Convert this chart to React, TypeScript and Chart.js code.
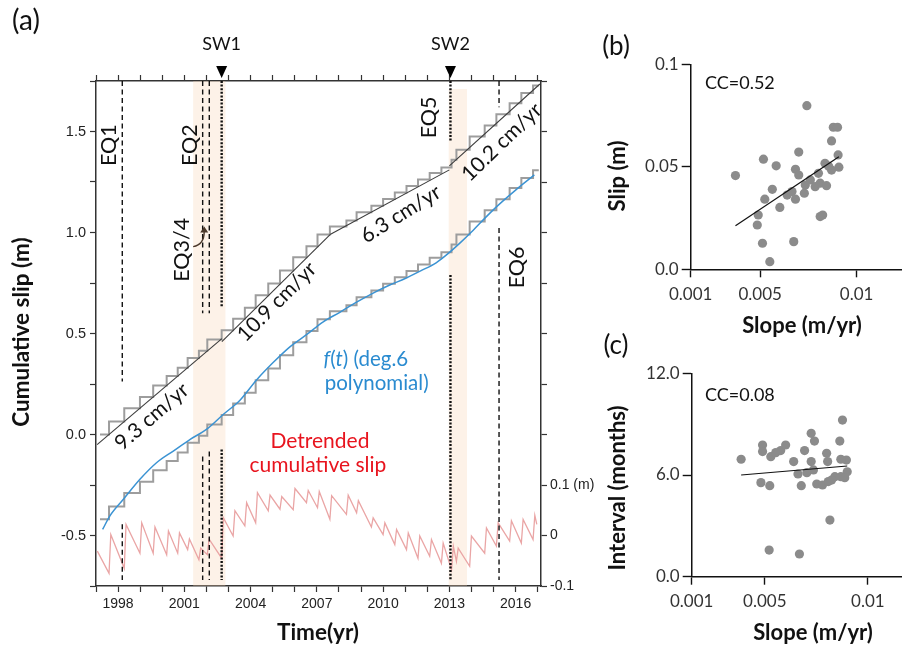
import React, { useEffect, useRef } from "react";
import { Chart, registerables } from "chart.js";
Chart.register(...registerables);

const CAL = "Lato, 'Open Sans', sans-serif";
const ARIAL = "'Liberation Sans', Arial, sans-serif";

// ---------------- Panel (a) data ----------------
const yearTicks = [1997, 1998, 1999, 2000, 2001, 2002, 2003, 2004, 2005, 2006, 2007, 2008, 2009, 2010, 2011, 2012, 2013, 2014, 2015, 2016, 2017];
const yearLabels = [1998, 2001, 2004, 2007, 2010, 2013, 2016];
const slipTicks = [-0.75, -0.5, -0.25, 0, 0.25, 0.5, 0.75, 1.0, 1.25, 1.5, 1.75];
const slipLabels = [-0.5, 0, 0.5, 1.0, 1.5];
const detTicks = [-0.1, 0, 0.1, 0.2, 0.3, 0.4, 0.5, 0.6, 0.7, 0.8, 0.9];
const detLabelValues = [-0.1, 0, 0.1];
const detLabelTexts = ["-0.1", "0", "0.1 (m)"];

const eventTimes = [1997.59, 1998.28, 1998.99, 1999.59, 2000.2, 2000.7, 2001.15, 2001.66, 2002.04, 2002.69, 2003.21, 2003.74, 2004.23, 2004.8, 2005.33, 2005.93, 2006.53, 2007.03, 2007.59, 2008.34, 2008.8, 2009.47, 2010.0, 2010.53, 2011.06, 2011.58, 2012.11, 2012.64, 2013.1, 2013.32, 2013.92, 2014.6, 2015.13, 2015.73, 2016.26, 2016.79];
const stairStartTime = 1997.18;
const stairStartValue = 0.0;
const stairEndTime = 2017.05;
const cumSlip = [0.064, 0.13, 0.186, 0.243, 0.289, 0.331, 0.379, 0.414, 0.47, 0.516, 0.573, 0.627, 0.689, 0.747, 0.812, 0.877, 0.932, 0.99, 1.03, 1.06, 1.1, 1.133, 1.166, 1.198, 1.23, 1.262, 1.295, 1.322, 1.36, 1.41, 1.475, 1.53, 1.585, 1.64, 1.69, 1.728];
const lowerOffset = 0.42;

const polyTimes = [1997.3, 1997.63, 1998.24, 1998.99, 1999.74, 2000.5, 2001.25, 2002.0, 2002.76, 2003.52, 2004.27, 2005.02, 2005.78, 2006.53, 2007.29, 2008.04, 2008.8, 2009.55, 2010.3, 2011.0, 2011.7, 2012.4, 2012.87, 2013.5, 2014.07, 2014.6, 2015.13, 2016.0, 2016.85];
const polyValues = [-0.47, -0.403, -0.321, -0.222, -0.14, -0.082, -0.025, 0.025, 0.099, 0.17, 0.27, 0.356, 0.434, 0.494, 0.558, 0.605, 0.655, 0.7, 0.74, 0.772, 0.81, 0.85, 0.889, 0.95, 1.01, 1.07, 1.127, 1.21, 1.285];

const detStartTime = 1997.06;
const detStartValue = -0.031;
const detBefore = [-0.075, -0.065, -0.035, -0.035, -0.038, -0.035, -0.028, -0.048, -0.038, -0.045, -0.001, 0.019, 0.025, 0.049, 0.052, 0.051, 0.065, 0.055, 0.032, 0.042, 0.045, 0.017, 0.002, -0.018, -0.028, -0.045, -0.041, -0.055, -0.068, -0.051, -0.061, -0.035, -0.021, -0.011, -0.015, -0.008];
const detAfter = [0.002, 0.022, 0.025, 0.017, 0.009, 0.005, -0.007, -0.025, -0.007, 0.035, 0.049, 0.065, 0.085, 0.08, 0.077, 0.093, 0.089, 0.087, 0.079, 0.08, 0.069, 0.035, 0.025, 0.012, 0.005, -0.001, -0.008, -0.015, -0.021, -0.025, -0.001, 0.015, 0.025, 0.029, 0.032, 0.04];
const detRise = 0.08;
const detEndTime = 2016.96;
const detEndValue = 0.022;

const trendStartT = [1997.05, 2002.7, 2007.6, 2013.0];
const trendStartV = [-0.05, 0.46, 0.99, 1.33];
const trendEndT = [2002.7, 2007.6, 2013.0, 2017.1];
const trendEndV = [0.475, 0.99, 1.31, 1.735];
const rateTexts = ["9.3 cm/yr", "10.9 cm/yr", "6.3 cm/yr", "10.2 cm/yr"];
const rateX = [1999.53, 2005.19, 2010.8, 2015.37];
const rateY = [0.089, 0.657, 1.091, 1.447];
const rateRot = [-41, -45, -32, -44];

const eqLineTimes = [1998.19, 2001.83, 2002.13, 2015.25];
const eqUpperEnd = [0.262, 0.6, 0.6, 1.62];
const eqLowerStart = [-0.444, -0.109, -0.084, 1.022];
const swTimes = [2002.69, 2013.05];
const swUpperEnd = [0.63, 1.447];
const swLowerStart = [-0.074, 0.79];
const swLabels = ["SW1", "SW2"];
const lineTop = 1.75;
const lineBottom = -0.72;

const bandStart = [2001.4, 2012.97];
const bandEnd = [2002.86, 2013.8];
const bandTop = [1.75, 1.71];

const eqTexts = ["EQ1", "EQ2", "EQ3/4", "EQ5", "EQ6"];
const eqTextX = [1997.58, 2001.25, 2000.91, 2012.09, 2016.05];
const eqTextY = [1.432, 1.432, 0.914, 1.57, 0.827];

// ---------------- Panel (b) data ----------------
const slopeB = [0.00372, 0.00517, 0.00583, 0.00563, 0.00524, 0.0049, 0.00485, 0.00512, 0.0055, 0.00602, 0.00674, 0.0064, 0.00665, 0.00683, 0.007, 0.00683, 0.007, 0.00729, 0.00742, 0.00734, 0.0076, 0.00785, 0.00802, 0.00811, 0.00844, 0.00836, 0.00811, 0.00824, 0.0087, 0.00879, 0.00901, 0.00904, 0.00908, 0.0087, 0.00855];
const slipB = [0.0457, 0.0537, 0.0505, 0.039, 0.0342, 0.0265, 0.0216, 0.0127, 0.0037, 0.0302, 0.0135, 0.0362, 0.0379, 0.0342, 0.0572, 0.0488, 0.046, 0.0371, 0.0798, 0.0411, 0.0436, 0.0403, 0.0468, 0.042, 0.0408, 0.0517, 0.0257, 0.0265, 0.0626, 0.0693, 0.0693, 0.0558, 0.0498, 0.0484, 0.0503];
const fitBX = [0.00372, 0.00908];
const fitBY = [0.0213, 0.0549];
const bXTicks = [0.0014, 0.005, 0.01];
const bXLabels = ["0.001", "0.005", "0.01"];
const bYTicks = [0, 0.05, 0.1];
const bYLabels = ["0.0", "0.05", "0.1"];

// ---------------- Panel (c) data ----------------
const slopeC = [0.00385, 0.00489, 0.00489, 0.00529, 0.00553, 0.00577, 0.00601, 0.00481, 0.00524, 0.00521, 0.00668, 0.0064, 0.00661, 0.00677, 0.00693, 0.00704, 0.00725, 0.00725, 0.00741, 0.00736, 0.00752, 0.0078, 0.008, 0.00805, 0.00808, 0.00816, 0.0084, 0.00864, 0.00877, 0.00869, 0.00896, 0.00869, 0.009, 0.00888, 0.00824];
const intervalC = [6.93, 7.77, 7.38, 7.08, 7.32, 7.44, 7.77, 5.55, 5.37, 1.57, 1.34, 6.79, 6.06, 5.37, 7.44, 6.14, 6.79, 8.46, 8.0, 6.3, 5.47, 5.41, 7.28, 6.79, 5.61, 3.34, 5.9, 8.0, 9.24, 5.9, 6.88, 6.93, 6.19, 5.84, 5.7];
const fitCX = [0.00385, 0.009];
const fitCY = [6.0, 6.53];
const cXTicks = [0.00145, 0.005, 0.01];
const cXLabels = ["0.001", "0.005", "0.01"];
const cYTicks = [0, 6, 12];
const cYLabels = ["0.0", "6.0", "12.0"];

// ---------------- helpers ----------------
type Seg = { t: string; italic?: boolean };
function drawRich(ctx: CanvasRenderingContext2D, segs: Seg[], cx: number, cy: number, size: number, weight: string, family: string, color: string, rot = 0) {
  ctx.save();
  ctx.translate(cx, cy);
  ctx.rotate((rot * Math.PI) / 180);
  const fonts = segs.map((s) => `${s.italic ? "italic " : ""}${weight} ${size}px ${family}`);
  let w = 0;
  const ws = segs.map((s, i) => {
    ctx.font = fonts[i];
    const m = ctx.measureText(s.t).width;
    w += m;
    return m;
  });
  let x = -w / 2;
  ctx.fillStyle = color;
  ctx.textBaseline = "middle";
  ctx.textAlign = "left";
  segs.forEach((s, i) => {
    ctx.font = fonts[i];
    ctx.fillText(s.t, x, 0);
    x += ws[i];
  });
  ctx.restore();
}
function txt(ctx: CanvasRenderingContext2D, t: string, cx: number, cy: number, size: number, weight = "400", color = "#111", rot = 0, family = CAL) {
  drawRich(ctx, [{ t }], cx, cy, size, weight, family, color, rot);
}
const near = (arr: number[], v: number) => arr.findIndex((a) => Math.abs(a - v) < 1e-7);

function tickGrid(len: number) {
  return { drawOnChartArea: false, drawTicks: true, tickLength: len, tickColor: "#333", tickWidth: 1.2 };
}
const border = { display: true, color: "#333", width: 1.5 };

// ---------------- Chart (a) ----------------
function makeA(canvas: HTMLCanvasElement) {
  const datasets: any[] = [];
  const vline = (x: number, y1: number, y2: number, dash: number[], w: number) => ({
    data: [{ x, y: y1 }, { x, y: y2 }],
    borderColor: "#111",
    borderWidth: w,
    borderDash: dash,
    pointRadius: 0,
    order: 1,
  });
  eqLineTimes.forEach((t, i) => {
    datasets.push(vline(t, lineTop, eqUpperEnd[i], [5, 3.5], 1.4));
    datasets.push(vline(t, eqLowerStart[i], lineBottom, [5, 3.5], 1.4));
  });
  swTimes.forEach((t, i) => {
    datasets.push(vline(t, lineTop, swUpperEnd[i], [2, 1.6], 2.4));
    datasets.push(vline(t, swLowerStart[i], lineBottom, [2, 1.6], 2.4));
  });
  const upper = [{ x: stairStartTime, y: stairStartValue }, ...eventTimes.map((t, i) => ({ x: t, y: cumSlip[i] })), { x: stairEndTime, y: cumSlip[cumSlip.length - 1] }];
  const lower = upper.map((p) => ({ x: p.x, y: p.y - lowerOffset }));
  datasets.push({ data: upper, stepped: true, borderColor: "#9d9d9d", borderWidth: 2, pointRadius: 0, order: 5 });
  datasets.push({ data: lower, stepped: true, borderColor: "#9d9d9d", borderWidth: 2, pointRadius: 0, order: 5 });
  trendStartT.forEach((t, i) => {
    datasets.push({ data: [{ x: t, y: trendStartV[i] }, { x: trendEndT[i], y: trendEndV[i] }], borderColor: "#3c3c3c", borderWidth: 1.1, pointRadius: 0, order: 4 });
  });
  datasets.push({ data: polyTimes.map((t, i) => ({ x: t, y: polyValues[i] })), borderColor: "#3b93d3", borderWidth: 1.5, pointRadius: 0, cubicInterpolationMode: "monotone", order: 3 });
  const det: any[] = [{ x: detStartTime, y: detStartValue }];
  eventTimes.forEach((t, i) => {
    det.push({ x: t, y: detBefore[i] });
    det.push({ x: t + detRise, y: detAfter[i] });
  });
  det.push({ x: detEndTime, y: detEndValue });
  datasets.push({ data: det, yAxisID: "y2", borderColor: "#eaa5a5", borderWidth: 1.3, pointRadius: 0, order: 3 });

  const plugin = {
    id: "annA",
    beforeDatasetsDraw(chart: any) {
      const { ctx, chartArea: ca, scales } = chart;
      const x = scales.x, y = scales.y;
      ctx.save();
      ctx.fillStyle = "rgba(250, 212, 178, 0.3)";
      bandStart.forEach((b, i) => {
        const x1 = x.getPixelForValue(b), x2 = x.getPixelForValue(bandEnd[i]);
        const yt = y.getPixelForValue(bandTop[i]);
        ctx.fillRect(x1, yt, x2 - x1, ca.bottom - yt);
      });
      ctx.restore();
    },
    afterDatasetsDraw(chart: any) {
      const { ctx, scales } = chart;
      const x = scales.x, y = scales.y;
      eqTexts.forEach((t, i) => txt(ctx, t, x.getPixelForValue(eqTextX[i]), y.getPixelForValue(eqTextY[i]), 21.5, "400", "#111", -90));
      rateTexts.forEach((t, i) => txt(ctx, t, x.getPixelForValue(rateX[i]), y.getPixelForValue(rateY[i]), 21, "400", "#111", rateRot[i]));
      const blue = "#2a8bd0";
      drawRich(ctx, [{ t: "f", italic: true }, { t: "(" }, { t: "t", italic: true }, { t: ") (deg.6" }], x.getPixelForValue(2009.22), y.getPixelForValue(0.37), 20.5, "400", CAL, blue);
      txt(ctx, "polynomial)", x.getPixelForValue(2009.71), y.getPixelForValue(0.252), 20.5, "400", blue);
      txt(ctx, "Detrended", x.getPixelForValue(2007.14), y.getPixelForValue(-0.035), 21, "400", "#e8141e");
      txt(ctx, "cumulative slip", x.getPixelForValue(2007.05), y.getPixelForValue(-0.153), 21, "400", "#e8141e");
      // EQ3/4 arrow
      const ax = x.getPixelForValue(2001.4), ay = y.getPixelForValue(0.93);
      const bx = x.getPixelForValue(2001.9), by = y.getPixelForValue(1.02);
      const cx = x.getPixelForValue(2001.9), cy = y.getPixelForValue(0.94);
      ctx.save();
      ctx.strokeStyle = "#4a382b";
      ctx.fillStyle = "#4a382b";
      ctx.lineWidth = 1.4;
      ctx.beginPath();
      ctx.moveTo(ax, ay);
      ctx.quadraticCurveTo(cx, cy, bx, by + 3);
      ctx.stroke();
      ctx.beginPath();
      ctx.moveTo(bx, by - 2);
      ctx.lineTo(bx - 4, by + 4);
      ctx.lineTo(bx + 4, by + 4);
      ctx.closePath();
      ctx.fill();
      ctx.restore();
    },
    afterDraw(chart: any) {
      const { ctx, chartArea: ca, scales } = chart;
      const x = scales.x;
      swTimes.forEach((t, i) => {
        const px = x.getPixelForValue(t);
        ctx.save();
        ctx.fillStyle = "#000";
        ctx.beginPath();
        ctx.moveTo(px, ca.top - 3);
        ctx.lineTo(px - 5.5, ca.top - 15);
        ctx.lineTo(px + 5.5, ca.top - 15);
        ctx.closePath();
        ctx.fill();
        ctx.restore();
        txt(ctx, swLabels[i], px, ca.top - 37, 18);
      });
      txt(ctx, "(a)", 26, 21, 28);
      txt(ctx, "Cumulative slip (m)", 22, 332, 22.5, "700", "#111", -90);
      txt(ctx, "Time(yr)", 318, 633, 22.5, "700");
    },
  };

  return new Chart(canvas, {
    type: "line",
    data: { datasets },
    plugins: [plugin],
    options: {
      animation: false,
      responsive: false,
      events: [],
      plugins: { legend: { display: false }, tooltip: { enabled: false } },
      layout: { padding: 0 },
      scales: {
        x: {
          type: "linear", position: "bottom", min: 1997, max: 2017.15,
          afterBuildTicks: (s: any) => { s.ticks = yearTicks.map((v) => ({ value: v })); },
          afterFit: (s: any) => { s.height = 63; },
          ticks: { autoSkip: false, maxRotation: 0, padding: 4, color: "#222", font: { family: ARIAL, size: 14 }, callback: (v: any) => (yearLabels.includes(v) ? String(v) : "") },
          grid: tickGrid(6), border,
        },
        xTop: {
          type: "linear", position: "top", min: 1997, max: 2017.15,
          afterBuildTicks: (s: any) => { s.ticks = yearTicks.map((v) => ({ value: v })); },
          afterFit: (s: any) => { s.height = 81; },
          ticks: { autoSkip: false, maxRotation: 0, callback: () => "" },
          grid: tickGrid(6), border,
        },
        y: {
          type: "linear", position: "left", min: -0.75, max: 1.75,
          afterBuildTicks: (s: any) => { s.ticks = slipTicks.map((v) => ({ value: v })); },
          afterFit: (s: any) => { s.width = 96; },
          ticks: { autoSkip: false, padding: 4, color: "#222", font: { family: ARIAL, size: 14.5 }, callback: (v: any) => (near(slipLabels, v) >= 0 ? Number(v).toFixed(1) : "") },
          grid: tickGrid(6), border,
        },
        y2: {
          type: "linear", position: "right", min: -0.1, max: 0.9,
          afterBuildTicks: (s: any) => { s.ticks = detTicks.map((v) => ({ value: v })); },
          afterFit: (s: any) => { s.width = 59; },
          ticks: { autoSkip: false, padding: 3, color: "#222", font: { family: ARIAL, size: 14 }, callback: (v: any) => { const i = near(detLabelValues, v); return i >= 0 ? detLabelTexts[i] : ""; } },
          grid: tickGrid(6), border,
        },
      },
    } as any,
  });
}

// ---------------- Scatter panels ----------------
function makeScatter(canvas: HTMLCanvasElement, cfg: any) {
  const plugin = {
    id: "ann" + cfg.tag,
    afterDraw(chart: any) {
      const { ctx } = chart;
      txt(ctx, cfg.tag, 16, cfg.tagY, 26);
      txt(ctx, cfg.yTitle, 18, cfg.yTitleY, 22, "700", "#111", -90);
      txt(ctx, "Slope (m/yr)", cfg.xTitleX, cfg.xTitleY, 22, "700");
      ctx.save();
      ctx.font = `400 18px ${CAL}`;
      ctx.fillStyle = "#111";
      ctx.textBaseline = "middle";
      ctx.textAlign = "left";
      ctx.fillText(cfg.cc, 105, cfg.ccY);
      ctx.restore();
    },
  };
  return new Chart(canvas, {
    type: "scatter",
    data: {
      datasets: [
        { data: cfg.xs.map((x: number, i: number) => ({ x, y: cfg.ys[i] })), backgroundColor: "#8b8b8b", borderWidth: 0, pointRadius: 4.6, order: 2 },
        { data: [{ x: cfg.fitX[0], y: cfg.fitY[0] }, { x: cfg.fitX[1], y: cfg.fitY[1] }], showLine: true, borderColor: "#111", borderWidth: 1.2, pointRadius: 0, order: 1 },
      ],
    },
    plugins: [plugin],
    options: {
      animation: false,
      responsive: false,
      events: [],
      plugins: { legend: { display: false }, tooltip: { enabled: false } },
      layout: { padding: { top: cfg.top, right: 2, left: 0, bottom: 0 } },
      scales: {
        x: {
          type: "linear", min: cfg.xMin, max: cfg.xMax,
          afterBuildTicks: (s: any) => { s.ticks = cfg.xTicks.map((v: number) => ({ value: v })); },
          afterFit: (s: any) => { s.height = cfg.xH; },
          ticks: { autoSkip: false, maxRotation: 0, padding: 7, color: "#333", font: { family: CAL, size: 17 }, callback: (v: any) => { const i = near(cfg.xTicks, v); return i >= 0 ? cfg.xLabels[i] : ""; } },
          grid: { drawOnChartArea: false, drawTicks: true, tickLength: 8, tickColor: "#111", tickWidth: 1.4 },
          border: { display: true, color: "#111", width: 1.5 },
        },
        y: {
          type: "linear", min: cfg.yMin, max: cfg.yMax,
          afterBuildTicks: (s: any) => { s.ticks = cfg.yTicks.map((v: number) => ({ value: v })); },
          afterFit: (s: any) => { s.width = cfg.yW; },
          ticks: { autoSkip: false, padding: 3, color: "#333", font: { family: CAL, size: 17 }, callback: (v: any) => { const i = near(cfg.yTicks, v); return i >= 0 ? cfg.yLabels[i] : ""; } },
          grid: { drawOnChartArea: false, drawTicks: true, tickLength: 9, tickColor: "#111", tickWidth: 1.4 },
          border: { display: true, color: "#111", width: 1.5 },
        },
      },
    } as any,
  });
}

export default function App() {
  const aRef = useRef<HTMLCanvasElement>(null);
  const bRef = useRef<HTMLCanvasElement>(null);
  const cRef = useRef<HTMLCanvasElement>(null);
  useEffect(() => {
    const charts = [
      makeA(aRef.current!),
      makeScatter(bRef.current!, {
        tag: "(b)", tagY: 17, yTitle: "Slip (m)", yTitleY: 146, xTitleX: 202, xTitleY: 296, cc: "CC=0.52", ccY: 53,
        xs: slopeB, ys: slipB, fitX: fitBX, fitY: fitBY, xMin: 0.0014, xMax: 0.01232, xTicks: bXTicks, xLabels: bXLabels,
        yMin: 0, yMax: 0.1, yTicks: bYTicks, yLabels: bYLabels, top: 34.3, xH: 70.7, yW: 90.7,
      }),
      makeScatter(cRef.current!, {
        tag: "(c)", tagY: 16, yTitle: "Interval (months)", yTitleY: 158, xTitleX: 213, xTitleY: 303, cc: "CC=0.08", ccY: 65,
        xs: slopeC, ys: intervalC, fitX: fitCX, fitY: fitCY, xMin: 0.00145, xMax: 0.01163, xTicks: cXTicks, xLabels: cXLabels,
        yMin: 0, yMax: 12, yTicks: cYTicks, yLabels: cYLabels, top: 43.3, xH: 72.3, yW: 91.7,
      }),
    ];
    return () => charts.forEach((c) => c.destroy());
  }, []);
  return (
    <div style={{ position: "absolute", left: 0, top: 0, width: 906, height: 649, background: "#fff", overflow: "hidden" }}>
      <canvas ref={aRef} width={600} height={649} style={{ position: "absolute", left: 0, top: 0, width: 600, height: 649 }} />
      <canvas ref={bRef} width={306} height={310} style={{ position: "absolute", left: 600, top: 30, width: 306, height: 310 }} />
      <canvas ref={cRef} width={306} height={319} style={{ position: "absolute", left: 600, top: 330, width: 306, height: 319 }} />
    </div>
  );
}
